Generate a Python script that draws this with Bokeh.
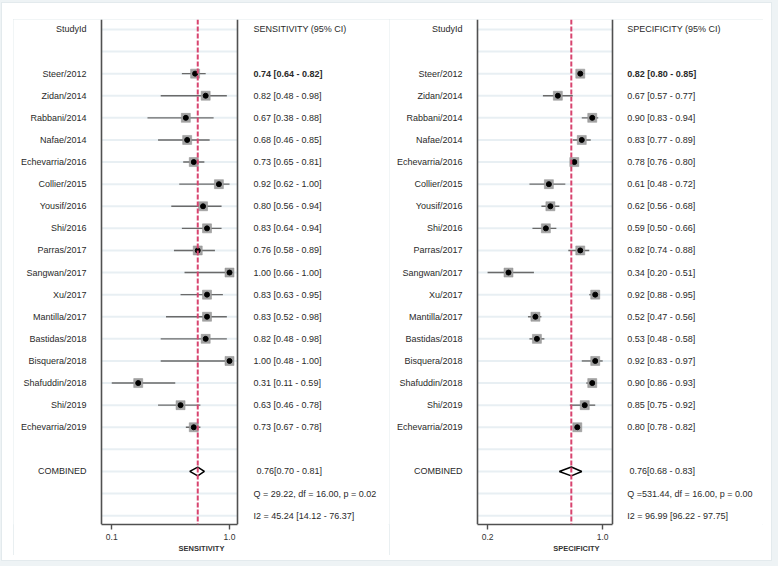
from bokeh.plotting import figure
from bokeh.models import Range1d, FixedTicker, Spacer, Span
from bokeh.layouts import row, column
from bokeh.embed import file_html
from bokeh.resources import INLINE
from bokeh.core.properties import value

# ---------------- data ----------------
studies = ["Steer/2012", "Zidan/2014", "Rabbani/2014", "Nafae/2014", "Echevarria/2016",
           "Collier/2015", "Yousif/2016", "Shi/2016", "Parras/2017", "Sangwan/2017",
           "Xu/2017", "Mantilla/2017", "Bastidas/2018", "Bisquera/2018", "Shafuddin/2018",
           "Shi/2019", "Echevarria/2019"]

sens = [0.74, 0.82, 0.67, 0.68, 0.73, 0.92, 0.80, 0.83, 0.76, 1.00, 0.83, 0.83, 0.82, 1.00, 0.31, 0.63, 0.73]
sens_lo = [0.64, 0.48, 0.38, 0.46, 0.65, 0.62, 0.56, 0.64, 0.58, 0.66, 0.63, 0.52, 0.48, 0.48, 0.11, 0.46, 0.67]
sens_hi = [0.82, 0.98, 0.88, 0.85, 0.81, 1.00, 0.94, 0.94, 0.89, 1.00, 0.95, 0.98, 0.98, 1.00, 0.59, 0.78, 0.78]

spec = [0.82, 0.67, 0.90, 0.83, 0.78, 0.61, 0.62, 0.59, 0.82, 0.34, 0.92, 0.52, 0.53, 0.92, 0.90, 0.85, 0.80]
spec_lo = [0.80, 0.57, 0.83, 0.77, 0.76, 0.48, 0.56, 0.50, 0.74, 0.20, 0.88, 0.47, 0.48, 0.83, 0.86, 0.75, 0.78]
spec_hi = [0.85, 0.77, 0.94, 0.89, 0.80, 0.72, 0.68, 0.66, 0.88, 0.51, 0.95, 0.56, 0.58, 0.97, 0.93, 0.92, 0.82]

sens_pooled = [0.76, 0.70, 0.81]
spec_pooled = [0.76, 0.68, 0.83]

sens_stats = ["Q = 29.22, df = 16.00, p =  0.02", "I2 = 45.24 [14.12 - 76.37]"]
spec_stats = ["Q =531.44, df = 16.00, p =  0.00", "I2 = 96.99 [96.22 - 97.75]"]

sens_ticks = [0.11, 1.00]
sens_tick_labels = ["0.1", "1.0"]
spec_ticks = [0.20, 0.97]
spec_tick_labels = ["0.2", "1.0"]

# ---------------- style ----------------
FONT = value("Liberation Sans")
TXT = "#2a2a2a"
BOX = "#505050"
GRID = "#e8eff3"
DASH = "#d8446f"
PANEL_LINE = "#e2eaed"
FRAME_H = 505
BOTTOM = 31
H = FRAME_H + BOTTOM
Y_TOP, Y_BOT = -0.45, 22.40


def panel(W, scale, anchor_val, anchor_px, box_l, box_r, lab_r, txt_x, pool_x,
          axis_title, header, est, lo, hi, pooled, stats, ticks, tick_labels):
    x0 = anchor_val - anchor_px / scale
    x1 = x0 + W / scale
    p = figure(width=W, height=H, output_backend="svg", toolbar_location=None,
               x_range=Range1d(x0, x1), y_range=Range1d(Y_BOT, Y_TOP),
               y_axis_location=None, min_border_left=0, min_border_right=0,
               min_border_top=0, min_border_bottom=BOTTOM,
               background_fill_color="white", border_fill_color="white",
               outline_line_color=None,
               styles={"outline": "1px solid " + PANEL_LINE, "outline-offset": "-1px"})
    p.extra_x_ranges = {"px": Range1d(0, W)}
    p.xgrid.visible = False
    p.ygrid.visible = False

    n = len(studies)
    header_row = 0
    study_rows = [2 + i for i in range(n)]
    pooled_row = n + 3
    stat_rows = [pooled_row + 1 + i for i in range(len(stats))]
    all_rows = list(range(0, stat_rows[-1] + 1))

    # light row lines inside the plot box
    p.segment(x0=[box_l] * len(all_rows), x1=[box_r] * len(all_rows), y0=all_rows, y1=all_rows,
              line_color=GRID, line_width=2, x_range_name="px")
    # box sides
    p.segment(x0=[box_l, box_r], x1=[box_l, box_r], y0=[Y_TOP, Y_TOP], y1=[Y_BOT, Y_BOT],
              line_color=BOX, line_width=1.6, x_range_name="px")

    # CI lines
    p.segment(x0=lo, x1=hi, y0=study_rows, y1=study_rows, line_color="#6a6a6a", line_width=1.4)
    # pooled reference line
    p.add_layout(Span(location=pooled[0], dimension="height", line_color=DASH,
                      line_width=2, line_dash="5 2"))
    # study markers
    p.scatter(x=est, y=study_rows, marker="square", size=9, fill_color="#a3a3a3",
              line_color="#8f8f8f", line_width=0.5)
    p.scatter(x=est, y=study_rows, marker="circle", size=5, fill_color="black", line_color="black")
    # pooled diamond
    d = 0.2
    p.patch(x=[pooled[1], pooled[0], pooled[2], pooled[0]],
            y=[pooled_row, pooled_row - d, pooled_row, pooled_row + d],
            fill_color="white", line_color="black", line_width=1.5)

    # text columns
    p.text(x=[lab_r], y=[header_row], text=["StudyId"], text_align="right", text_baseline="middle",
           text_font=FONT, text_font_size="9px", text_color=TXT, x_range_name="px")
    p.text(x=[txt_x], y=[header_row], text=[header], text_align="left", text_baseline="middle",
           text_font=FONT, text_font_size="9px", text_color=TXT, x_range_name="px")
    p.text(x=[lab_r] * n, y=study_rows, text=studies, text_align="right", text_baseline="middle",
           text_font=FONT, text_font_size="9px", text_color=TXT, x_range_name="px")
    ci_txt = ["%.2f [%.2f - %.2f]" % (e, l, h) for e, l, h in zip(est, lo, hi)]
    p.text(x=[txt_x], y=study_rows[:1], text=ci_txt[:1], text_align="left", text_baseline="middle",
           text_font=FONT, text_font_size="9px", text_font_style="bold", text_color=TXT,
           x_range_name="px")
    p.text(x=[txt_x] * (n - 1), y=study_rows[1:], text=ci_txt[1:], text_align="left",
           text_baseline="middle", text_font=FONT, text_font_size="9px", text_color=TXT,
           x_range_name="px")
    p.text(x=[lab_r], y=[pooled_row], text=["COMBINED"], text_align="right", text_baseline="middle",
           text_font=FONT, text_font_size="9px", text_color=TXT, x_range_name="px")
    p.text(x=[pool_x], y=[pooled_row], text=["%.2f[%.2f - %.2f]" % tuple(pooled)], text_align="left",
           text_baseline="middle", text_font=FONT, text_font_size="9px", text_color=TXT,
           x_range_name="px")
    p.text(x=[txt_x] * len(stats), y=stat_rows, text=stats, text_align="left", text_baseline="middle",
           text_font=FONT, text_font_size="9px", text_color=TXT, x_range_name="px")

    # x axis
    ax = p.xaxis[0]
    ax.ticker = FixedTicker(ticks=ticks)
    ax.major_label_overrides = {t: s for t, s in zip(ticks, tick_labels)}
    ax.bounds = (x0 + box_l / scale, x0 + box_r / scale)
    ax.axis_line_color = BOX
    ax.axis_line_width = 1.6
    ax.major_tick_line_color = BOX
    ax.major_tick_line_width = 1.4
    ax.major_tick_out = 5
    ax.major_tick_in = 0
    ax.minor_tick_line_color = None
    ax.major_label_text_font = "Liberation Sans"
    ax.major_label_text_font_size = "8.5px"
    ax.major_label_text_color = "#333333"
    ax.major_label_standoff = 4
    ax.axis_label = axis_title
    ax.axis_label_text_font = "Liberation Sans"
    ax.axis_label_text_font_size = "7.5px"
    ax.axis_label_text_font_style = "bold"
    ax.axis_label_text_color = "#333333"
    ax.axis_label_standoff = 1
    return p


left = panel(376, 132.3, 1.0, 216.0, 88, 224, 73, 240, 243,
             "SENSITIVITY", "SENSITIVITY (95% CI)", sens, sens_lo, sens_hi, sens_pooled,
             sens_stats, sens_ticks, sens_tick_labels)
right = panel(374, 149.5, 0.97, 213.2, 88, 223, 73, 237.7, 240,
              "SPECIFICITY", "SPECIFICITY (95% CI)", spec, spec_lo, spec_hi, spec_pooled,
              spec_stats, spec_ticks, spec_tick_labels)

inner = column(Spacer(height=17),
               row(Spacer(width=12), left, right, Spacer(width=9)),
               Spacer(height=6),
               styles={"outline": "1px solid #e3eaed", "outline-offset": "-1px",
                       "background-color": "white",
                       "box-shadow": "0 0 0 40px #eef3f5"})
layout = column(Spacer(height=2), row(Spacer(width=1), inner))

open("out.html", "w").write(file_html(layout, INLINE))
